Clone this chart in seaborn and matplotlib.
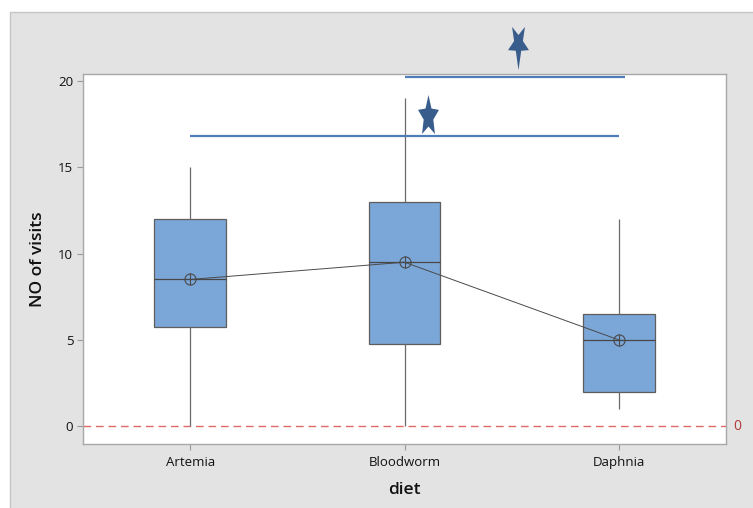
import numpy as np
import pandas as pd
import matplotlib
matplotlib.use("Agg")
import matplotlib.pyplot as plt
from matplotlib.path import Path
from matplotlib.patches import Rectangle
from matplotlib.lines import Line2D
import seaborn as sns

# ---- data ----
diets = ["Artemia", "Bloodworm", "Daphnia"]
mins = [0, 0, 1]
q1s = [5.75, 4.75, 2]
medians = [8.5, 9.5, 5]
q3s = [12, 13, 6.5]
maxs = [15, 19, 12]
means = [8.5, 9.5, 5]
y_ticks = [0, 5, 10, 15, 20]
ref_value = 0
# significance bars: (start group position, end group position, height)
sig_bars = [(0, 2, 16.8), (1, 2.03, 20.2)]
# significance stars: (x position, y position)
star_up = (1.11, 18.1)
star_down = (1.53, 21.92)

rows = []
for d, a, b, c, e, f in zip(diets, mins, q1s, medians, q3s, maxs):
    for v in (a, b, c, e, f):
        rows.append({"diet": d, "visits": v})
df = pd.DataFrame(rows)

# ---- styling ----
sns.set_style("white")
plt.rcParams["font.family"] = ["Open Sans", "DejaVu Sans"]

W, H = 753, 508
fig = plt.figure(figsize=(W / 100, H / 100), dpi=100)
fig.patch.set_facecolor("white")

# grey panel behind the plot
fig.add_artist(Rectangle((10 / W, 0), 1 - 10 / W, (H - 12) / H, transform=fig.transFigure,
                         facecolor="#E3E3E3", edgecolor="none", zorder=-5))
fig.add_artist(Line2D([10 / W, 1], [(H - 12) / H] * 2, transform=fig.transFigure,
                      color="#C6C6C6", lw=1.0, zorder=-4))
fig.add_artist(Line2D([10 / W] * 2, [0, (H - 12) / H], transform=fig.transFigure,
                      color="#C6C6C6", lw=1.0, zorder=-4))

ax = fig.add_axes([83 / W, (H - 443.5) / H, (726 - 83) / W, (443.5 - 74) / H])
ax.set_facecolor("white")

BOX = "#7BA6D8"
EDGE = "#5E5E5E"
sns.boxplot(data=df, x="diet", y="visits", order=diets, whis=(0, 100), width=0.335,
            color=BOX, saturation=1, linecolor=EDGE, linewidth=0.9, showcaps=False,
            fliersize=0, ax=ax,
            medianprops=dict(color="#474747", linewidth=0.9),
            whiskerprops=dict(color="#6A6A6A", linewidth=0.9))

# means connected by a line, drawn as circled crosses
sns.pointplot(x=diets, y=means, order=diets, color="#4A4A4A", markers="o",
              linestyles="-", errorbar=None, ax=ax, markersize=8,
              markerfacecolor="none", markeredgewidth=0.8, linewidth=0.7)
sns.pointplot(x=diets, y=means, order=diets, color="#4A4A4A", markers="+",
              linestyles="none", errorbar=None, ax=ax, markersize=8,
              markeredgewidth=0.8)

# reference line
ax.axhline(ref_value, color="#E06A6A", lw=1.0, ls=(0, (5.5, 3.5)), zorder=1)
ax.annotate(str(ref_value), xy=(1, ref_value), xycoords=("axes fraction", "data"),
            xytext=(5, 0), textcoords="offset points", va="center", ha="left",
            color="#B23A3A", fontsize=10, annotation_clip=False)

# significance bars
for x0, x1, yb in sig_bars:
    ax.plot([x0, x1], [yb, yb], color="#4F7DBA", lw=1.6, solid_capstyle="butt",
            clip_on=False, zorder=3)


def star_path(pointing_up, sx, sy, inner=0.45, tip_stretch=1.0):
    verts = []
    base = 90 if pointing_up else -90
    for k in range(5):
        a_out = np.deg2rad(base + 72 * k)
        a_in = np.deg2rad(base + 36 + 72 * k)
        ox, oy = np.cos(a_out), np.sin(a_out)
        if k == 0 and not pointing_up:
            oy *= tip_stretch
        verts.append((ox * sx, oy * sy))
        verts.append((inner * np.cos(a_in) * sx, inner * np.sin(a_in) * sy))
    verts = np.array(verts)
    ymin, ymax = verts[:, 1].min(), verts[:, 1].max()
    verts[:, 1] -= (ymin + ymax) / 2
    verts = np.vstack([verts, verts[:1]])
    half = np.abs(verts).max()
    return Path(verts, closed=True), half


STAR = "#385C8C"
p_up, h_up = star_path(True, 11, 21.6, inner=0.46)
p_dn, h_dn = star_path(False, 11, 20.8, inner=0.42, tip_stretch=1.27)
ax.plot([star_up[0]], [star_up[1]], marker=p_up, markersize=2 * h_up * 0.72,
        color=STAR, mec="none", ls="none", clip_on=False, zorder=4)
ax.plot([star_down[0]], [star_down[1]], marker=p_dn, markersize=2 * h_dn * 0.72,
        color=STAR, mec="none", ls="none", clip_on=False, zorder=4)

# axes
ax.set_xlim(-0.5, 2.5)
ax.set_ylim(-1.0, 20.4)
ax.set_yticks(y_ticks)
ax.set_xlabel("diet", fontsize=12.5, fontweight="semibold", color="#111111", labelpad=9)
ax.set_ylabel("NO of visits", fontsize=12.5, fontweight="semibold", color="#111111", labelpad=9)
ax.tick_params(axis="both", which="both", length=4, width=0.8, color="#9A9A9A",
               labelsize=9.5, labelcolor="#111111", pad=3, direction="out")
ax.tick_params(axis="x", bottom=True, pad=5)
ax.tick_params(axis="y", left=True)
for s in ax.spines.values():
    s.set_color("#A8A8A8")
    s.set_linewidth(1.0)

fig.savefig("out.png", dpi=100)
